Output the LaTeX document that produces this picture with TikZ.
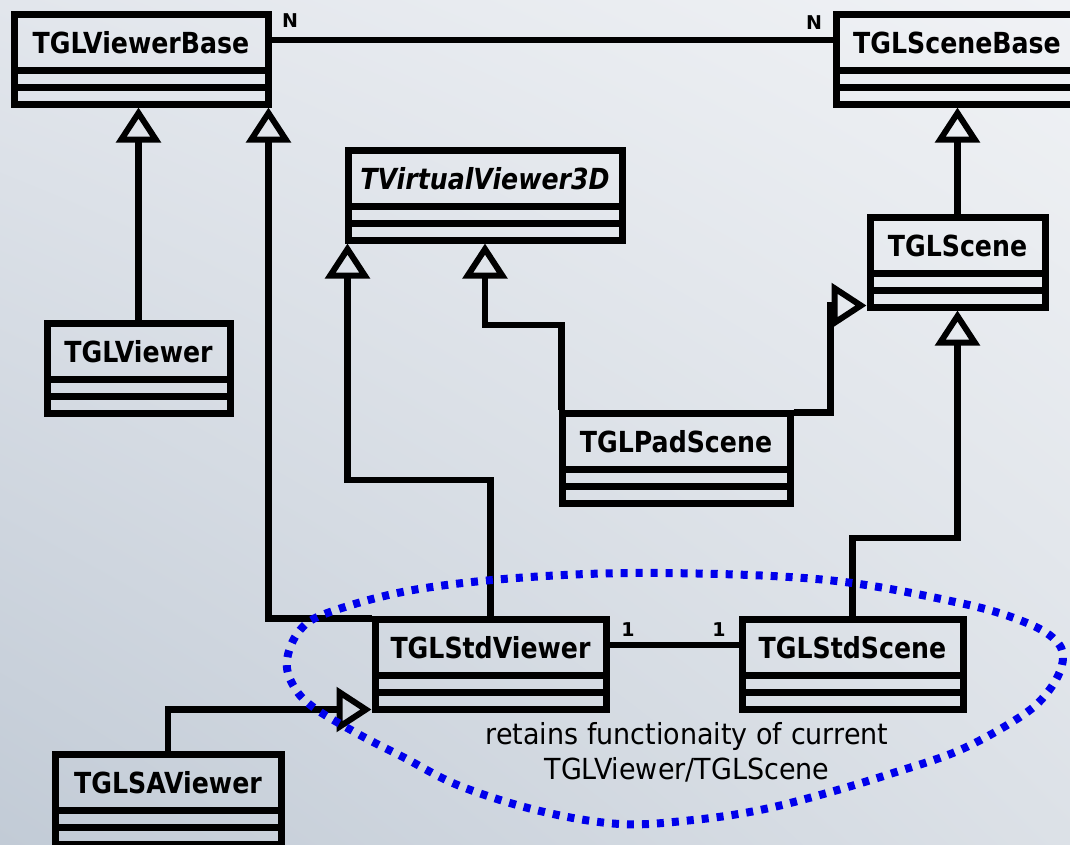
\documentclass[tikz,border=0pt]{standalone}
\usepackage{fontspec}
\usepackage{graphicx}
\setmainfont{DejaVu Sans}
\usetikzlibrary{arrows.meta,shadings}
\definecolor{grpblue}{RGB}{0,0,235}
\definecolor{bgUL}{RGB}{226,230,236}
\definecolor{bgUR}{RGB}{240,242,245}
\definecolor{bgLL}{RGB}{194,203,214}
\definecolor{bgLR}{RGB}{220,225,231}
\tikzset{
  umlbox/.style={draw=black, line width=7pt, line join=miter, inner sep=0pt, rectangle},
  umlrule/.style={draw=black, line width=7pt},
  cname/.style={font=\fontsize{29}{32}\selectfont\bfseries, inner sep=0pt},
  cnameit/.style={font=\fontsize{29}{32}\selectfont\bfseries\itshape, inner sep=0pt},
  conn/.style={draw=black, line width=6.5pt, line join=miter},
  inh/.style={conn, -{Triangle[open, length=35pt, width=44pt, line width=6pt]}},
  mult/.style={font=\fontsize{19}{20}\selectfont\bfseries, inner sep=0pt},
  note/.style={font=\fontsize{29}{35}\selectfont, align=center, inner sep=0pt},
  groupline/.style={draw=grpblue, line width=8pt, dash pattern=on 7pt off 8pt},
}
\newcommand\umlclass[6]{%
  \node[umlbox, minimum width={#3-#2}, minimum height=90pt] (#1) at ({(#2+#3)/2},{#4+45}) {};
  \draw[umlrule] (#2,{#4+56}) -- (#3,{#4+56});
  \draw[umlrule] (#2,{#4+73}) -- (#3,{#4+73});
  \node[#6] (#1-name) at ({(#2+#3)/2},{#4+29}) {\scalebox{0.87}[1]{#5}};
}
\begin{document}
\begin{tikzpicture}[x=1pt, y=-1pt]
  \shade[upper left=bgUL, upper right=bgUR, lower left=bgLL, lower right=bgLR] (0,0) rectangle (1070,844);
  \useasboundingbox (0,0) rectangle (1070,844);

  % classes
  \umlclass{vb}{14}{268}{14}{TGLViewerBase}{cname}
  \umlclass{sb}{836}{1078}{14}{TGLSceneBase}{cname}
  \umlclass{tv}{348}{622}{150}{TVirtualViewer3D}{cnameit}
  \umlclass{sc}{870}{1045}{217}{TGLScene}{cname}
  \umlclass{v}{47}{230}{323}{TGLViewer}{cname}
  \umlclass{ps}{562}{790}{413}{TGLPadScene}{cname}
  \umlclass{sv}{375}{606}{619}{TGLStdViewer}{cname}
  \umlclass{ss}{742}{963}{619}{TGLStdScene}{cname}
  \umlclass{sa}{55}{281}{754}{TGLSAViewer}{cname}

  % association viewer base -- scene base
  \draw[conn] (vb.east |- 0,40) -- (sb.west |- 0,40);
  \node[mult] (n1) at (290,21) {N};
  \node[mult] (n2) at (814,23) {N};

  % association std viewer -- std scene
  \draw[conn] (sv.east |- 0,645) -- (ss.west |- 0,645);
  \node[mult] (m1) at (628,630) {1};
  \node[mult] (m2) at (719,630) {1};

  % inheritance
  \draw[inh] (v.north) -- (v.north |- vb.south);
  \draw[inh] ([yshift=-3pt]sv.north west) -| ([xshift=-3pt]vb.south east);
  \draw[inh] (sv.north) -- (sv.north |- 0,480) -| ([xshift=3pt]tv.south west);
  \draw[inh] ([xshift=3pt]ps.north west) |- (tv.south |- 0,325) -- (tv.south);
  \draw[inh] ([yshift=-3pt]ps.north east) -| ([xshift=-36pt,yshift=5pt]sc.south west) -- ([yshift=5pt]sc.south west);
  \draw[inh] (sc.north) -- (sc.north |- sb.south);
  \draw[inh] (ss.north) -- (ss.north |- 0,538) -| (sc.south);
  \draw[inh] (sa.north) |- ([yshift=3pt]sv.south west);

  % grouping outline
  \draw[groupline] plot[smooth cycle, tension=0.6] coordinates {
    (287,660) (300,630) (330,612) (413,590) (530,577) (663,573) (827,580)
    (960,603) (1027,623) (1058,643) (1062,665) (1047,693) (1020,717)
    (960,750) (893,773) (827,793) (760,810) (693,820) (620,824)
    (540,811) (460,786) (403,757) (360,735) (313,707) (293,685)};

  \node[note] (note) at (687,752) {\scalebox{0.93}[1]{retains functionaity of current}\\\scalebox{0.93}[1]{TGLViewer/TGLScene}};
\end{tikzpicture}
\end{document}
